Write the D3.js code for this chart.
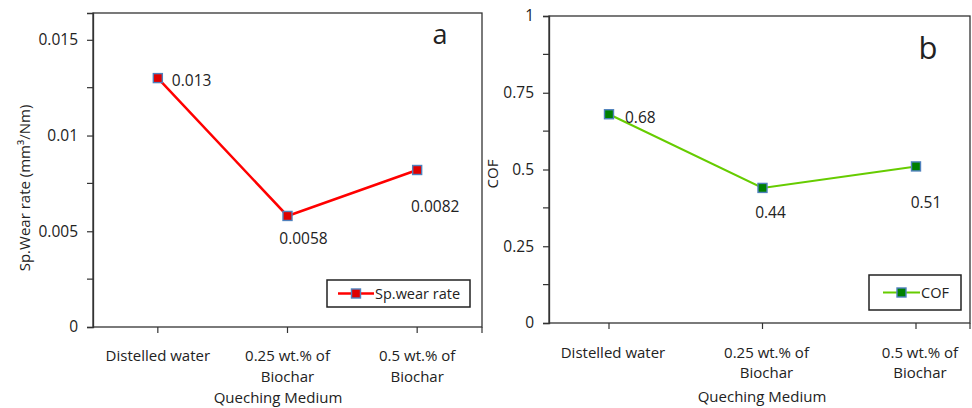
<!DOCTYPE html>
<html><head><meta charset="utf-8">
<script src="https://cdn.jsdelivr.net/npm/d3@7"></script>
<style>
body{margin:0;background:#fff;}
text{font-family:"Open Sans","Noto Sans",sans-serif;fill:#222;}
</style></head>
<body>
<svg id="c" width="972" height="408"></svg>
<script>
// ---- data ----
const categories = [["Distelled water"], ["0.25 wt.% of", "Biochar"], ["0.5 wt.% of", "Biochar"]];
const wearRate = [0.013, 0.0058, 0.0082];
const wearLabels = ["0.013", "0.0058", "0.0082"];
const cof = [0.68, 0.44, 0.51];
const cofLabels = ["0.68", "0.44", "0.51"];
const wearTicks = [0, 0.005, 0.01, 0.015];
const wearTickLabels = ["0", "0.005", "0.01", "0.015"];
const wearMinor = [0.0025, 0.0075, 0.0125];
const cofTicks = [0, 0.25, 0.5, 0.75, 1];
const cofTickLabels = ["0", "0.25", "0.5", "0.75", "1"];
const cofMinor = [0.125, 0.375, 0.625, 0.875];

const svg = d3.select("#c");
const FS = 15;

function panel(cfg){
  const g = svg.append("g");
  const keys = categories.map((c,i)=>i);
  const x = d3.scalePoint().domain(keys).range(cfg.xr).padding(cfg.pad);
  const y = d3.scaleLinear().domain(cfg.ydom).range([cfg.b, cfg.t]);
  // frame
  g.append("rect").attr("x", cfg.l).attr("y", cfg.t).attr("width", cfg.r-cfg.l).attr("height", cfg.b-cfg.t)
    .attr("fill","none").attr("stroke","#333").attr("stroke-width",1.3);
  // y axis
  const ya = d3.axisLeft(y).tickValues(cfg.ticks).tickFormat((d,i)=>cfg.tickLabels[i]).tickSize(6).tickPadding(9);
  const yg = g.append("g").attr("transform",`translate(${cfg.l},0)`).call(ya);
  yg.select(".domain").attr("stroke","#333").attr("stroke-width",1.3);
  yg.selectAll(".tick line").attr("stroke","#333").attr("stroke-width",1.2);
  yg.selectAll("text").style("font-size",(FS+0.5)+"px").attr("fill","#222");
  g.append("g").selectAll("line").data(cfg.minor).join("line")
    .attr("x1",cfg.l-6).attr("x2",cfg.l).attr("y1",d=>y(d)).attr("y2",d=>y(d))
    .attr("stroke","#333").attr("stroke-width",1.2);
  // x ticks
  g.append("g").selectAll("line").data(keys.map(k=>x(k)).concat([cfg.r])).join("line")
    .attr("x1",d=>d).attr("x2",d=>d).attr("y1",cfg.b).attr("y2",cfg.b+6)
    .attr("stroke","#333").attr("stroke-width",1.2);
  // category labels
  const cl = g.append("g");
  categories.forEach((lines,i)=>{
    lines.forEach((s,j)=>{
      cl.append("text").attr("x",x(i)+cfg.catDx).attr("y",cfg.catY + j*cfg.catLH)
        .attr("text-anchor","middle").attr("dominant-baseline","central")
        .style("font-size",FS+"px").text(s);
    });
  });
  // x title
  g.append("text").attr("x",cfg.xtX).attr("y",cfg.xtY).attr("text-anchor","middle")
    .attr("dominant-baseline","central").style("font-size",FS+"px").text("Queching Medium");
  // y title
  g.append("text").attr("transform",`translate(${cfg.ytX},${cfg.ytY}) rotate(-90)`)
    .attr("text-anchor","middle").attr("dominant-baseline","central")
    .style("font-size",FS+"px").text(cfg.ytitle);
  // line
  const line = d3.line().x((d,i)=>x(i)).y(d=>y(d));
  g.append("path").datum(cfg.vals).attr("d",line).attr("fill","none")
    .attr("stroke",cfg.lineColor).attr("stroke-width",cfg.lw);
  g.append("g").selectAll("rect").data(cfg.vals).join("rect")
    .attr("x",(d,i)=>x(i)-4.5).attr("y",d=>y(d)-4.5).attr("width",9).attr("height",9)
    .attr("fill",cfg.markColor).attr("stroke","#4f81bd").attr("stroke-width",1.4);
  // data labels
  g.append("g").selectAll("text").data(cfg.vals).join("text")
    .attr("x",(d,i)=>x(i)+cfg.lblOff[i][0]).attr("y",(d,i)=>y(d)+cfg.lblOff[i][1])
    .attr("text-anchor",(d,i)=>cfg.lblOff[i][2]).attr("dominant-baseline","central")
    .style("font-size",(FS+0.5)+"px").text((d,i)=>cfg.labels[i]);
  // panel letter
  g.append("text").attr("x",cfg.letX).attr("y",cfg.letY).attr("text-anchor","middle")
    .attr("dominant-baseline","central").style("font-size",cfg.letFS+"px").text(cfg.letter);
  // legend
  const L = cfg.leg;
  g.append("rect").attr("x",L.x).attr("y",L.y).attr("width",L.w).attr("height",L.h)
    .attr("fill","#fff").attr("stroke","#222").attr("stroke-width",1.5);
  g.append("line").attr("x1",L.lx1).attr("x2",L.lx2).attr("y1",L.y+L.h/2).attr("y2",L.y+L.h/2)
    .attr("stroke",cfg.lineColor).attr("stroke-width",cfg.lw);
  g.append("rect").attr("x",(L.lx1+L.lx2)/2-4.5).attr("y",L.y+L.h/2-4.5).attr("width",9).attr("height",9)
    .attr("fill",cfg.markColor).attr("stroke","#4f81bd").attr("stroke-width",1.4);
  g.append("text").attr("x",L.lx2+1).attr("y",L.y+L.h/2).attr("dominant-baseline","central")
    .style("font-size",(FS-0.5)+"px").text(L.text);
}

panel({
  l:93, r:482, t:13, b:327, xr:[93,482], pad:0.5, ydom:[0,0.0164],
  ticks:wearTicks, tickLabels:wearTickLabels, minor:wearMinor,
  catY:355, catLH:21, catDx:0, xtX:278, xtY:397, ytX:24, ytY:188,
  ytitle:"Sp.Wear rate (mm³/Nm)", vals:wearRate, labels:wearLabels,
  lineColor:"#ff0000", markColor:"#e00000", lw:2.5,
  lblOff:[[14,2,"start"],[16,22,"middle"],[18,36,"middle"]],
  letter:"a", letX:440, letY:33, letFS:27,
  leg:{x:327,y:280,w:143,h:27,lx1:338,lx2:374,text:"Sp.wear rate"}
});
panel({
  l:549, r:970, t:16, b:323, xr:[609,916], pad:0, ydom:[0,1],
  ticks:cofTicks, tickLabels:cofTickLabels, minor:cofMinor,
  catY:352, catLH:20, catDx:4, xtX:762, xtY:396, ytX:492, ytY:174,
  ytitle:"COF", vals:cof, labels:cofLabels,
  lineColor:"#66cc00", markColor:"#008000", lw:2,
  lblOff:[[16,3,"start"],[8,24,"middle"],[10,36,"middle"]],
  letter:"b", letX:928, letY:47, letFS:31,
  leg:{x:869,y:275,w:92,h:35,lx1:883,lx2:920,text:"COF"}
});
</script>
</body></html>
